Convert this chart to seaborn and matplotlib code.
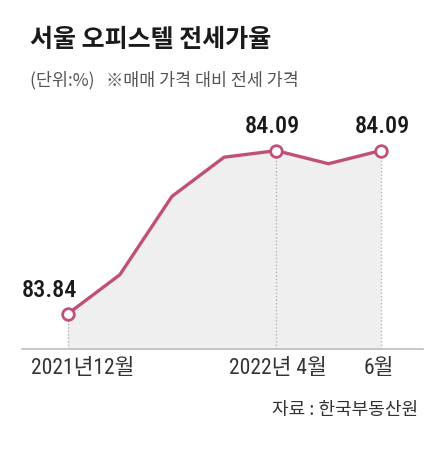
import matplotlib
matplotlib.use("Agg")
import matplotlib.pyplot as plt
import seaborn as sns
import pandas as pd
import numpy as np

months = ["2021-12", "2022-01", "2022-02", "2022-03", "2022-04", "2022-05", "2022-06"]
values = [83.84, 83.90, 84.02, 84.08, 84.09, 84.07, 84.09]
marked_idx = [0, 4, 6]
tick_idx = [0, 4, 6]
tick_labels = ["2021년12월", "2022년 4월", "6월"]

title = "서울 오피스텔 전세가율"
subtitle = "(단위:%)   ※매매 가격 대비 전세 가격"
source = "자료 : 한국부동산원"

sns.set_theme(style="white")
plt.rcParams["font.family"] = ["Noto Sans CJK KR", "DejaVu Sans"]

df = pd.DataFrame({"pos": np.arange(len(months)), "month": months, "value": values})

fig = plt.figure(figsize=(4.38, 4.5), dpi=100)
ax = fig.add_axes([0.0495, 1 - 349.3 / 450, 0.916, (349.3 - 100) / 450])

line_color = "#c0507a"
ymin = 83.786
ax.fill_between(df["pos"], df["value"], ymin, color="#efefef", linewidth=0, zorder=1)
for i in marked_idx:
    ax.plot([df["pos"][i], df["pos"][i]], [ymin, df["value"][i]], color="#b5b5b5",
            linestyle=(0, (1, 1.5)), linewidth=1.0, zorder=2)
sns.lineplot(data=df, x="pos", y="value", ax=ax, color=line_color, linewidth=2.4, zorder=3)
sub = df.iloc[marked_idx]
sns.scatterplot(data=sub, x="pos", y="value", ax=ax, s=70, color="white",
                edgecolor=line_color, linewidth=2.0, zorder=4)

ax.set_xlim(-0.88, 6.81)
ax.set_ylim(ymin, 84.1675)
for s in ["top", "right", "left"]:
    ax.spines[s].set_visible(False)
ax.spines["bottom"].set_color("#bdbdbd")
ax.spines["bottom"].set_linewidth(1.2)
ax.set_xticks([])
ax.set_yticks([])
ax.set_xlabel("")
ax.set_ylabel("")

num_font = ["Roboto Condensed", "DejaVu Sans"]
label_offsets = {0: (-13, 9), 4: (-3, 9), 6: (1, 9)}
for i in marked_idx:
    dx, dy = label_offsets[i]
    ax.annotate(f"{values[i]:.2f}", (df["pos"][i], values[i]), xytext=(dx, dy),
                textcoords="offset points", ha="center", va="bottom",
                fontsize=17.5, fontweight="medium", color="#1a1a1a", family=num_font)

tick_offsets = {0: 11, 4: 1, 6: -1}
for i, lab in zip(tick_idx, tick_labels):
    ax.annotate(lab, (df["pos"][i], ymin), xytext=(tick_offsets[i], -6),
                textcoords="offset points", ha="center", va="top",
                fontsize=15.5, color="#333333",
                family=["Roboto Condensed", "Noto Sans CJK KR"])

fig.text(30 / 438, 1 - 40 / 450, title, fontsize=18, fontweight="bold",
         color="#1a1a1a", va="center", ha="left")
fig.text(30 / 438, 1 - 80 / 450, subtitle, fontsize=12.5, color="#555555",
         va="center", ha="left")
fig.text(418 / 438, 1 - 410 / 450, source, fontsize=13, color="#333333",
         va="center", ha="right")

fig.savefig("out.png", dpi=100, facecolor="white")
